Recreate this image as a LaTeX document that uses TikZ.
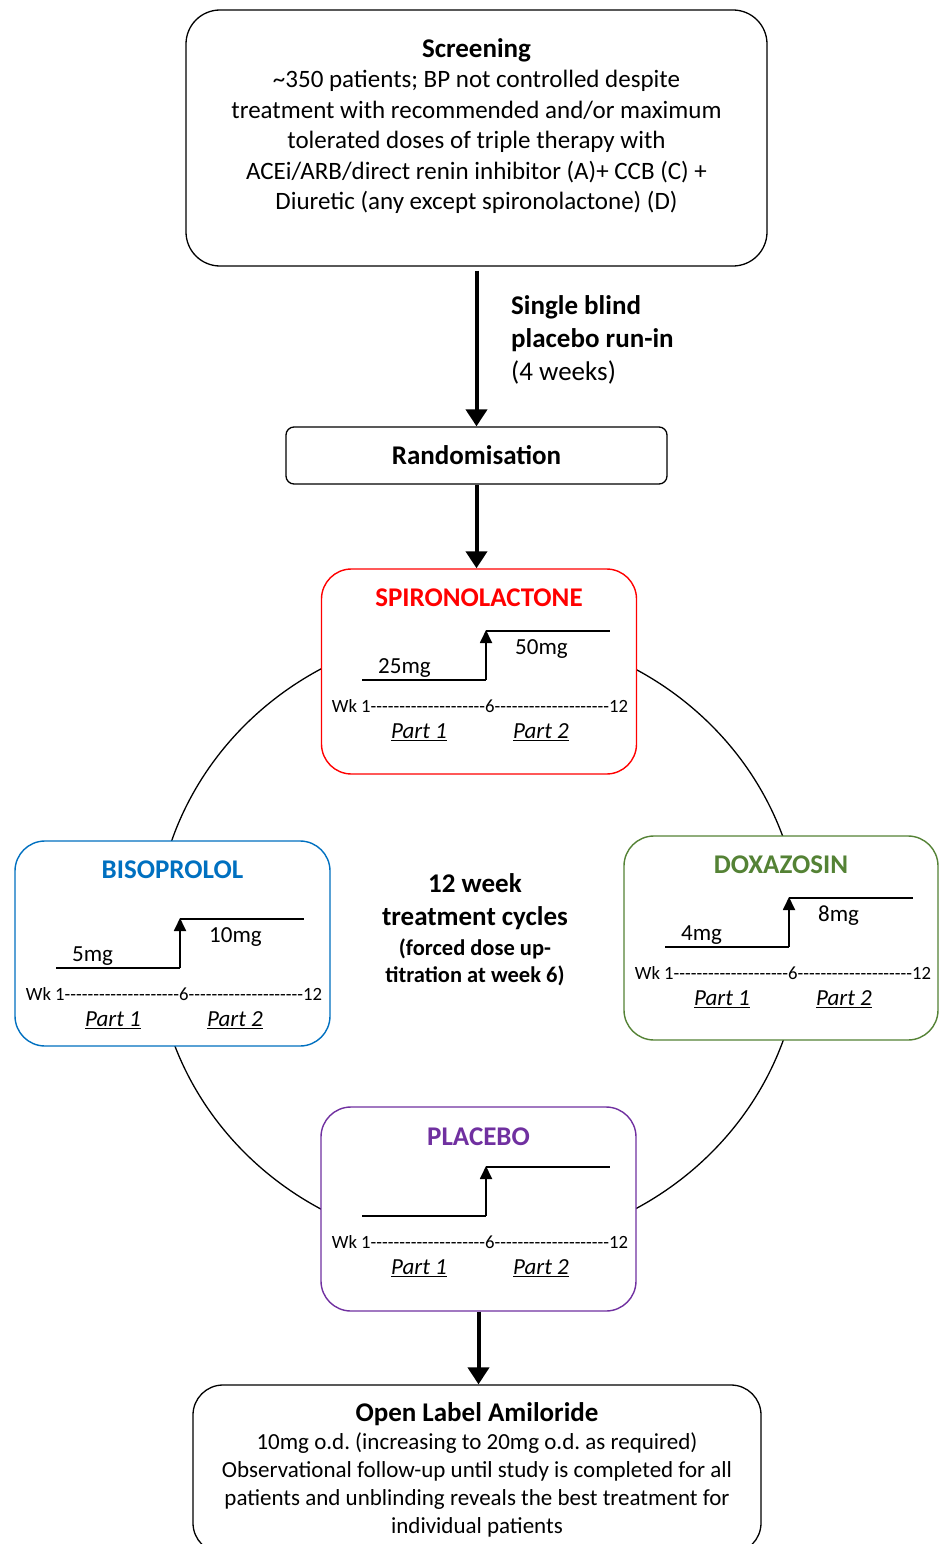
\documentclass[tikz,border=0pt]{standalone}
\usepackage{fontspec}
\setmainfont{Carlito}
\usetikzlibrary{arrows.meta,positioning,calc}
\definecolor{spirored}{HTML}{FF0000}
\definecolor{bisoblue}{HTML}{0070C0}
\definecolor{doxagreen}{HTML}{548235}
\definecolor{placpurple}{HTML}{7030A0}
\frenchspacing

\newcommand\fsz[2]{\fontsize{#1}{#2}\selectfont}
\newcommand\dashrun{\foreach \d in {1,...,20}{-\kern0pt}}

% dose step inside a drug box: origin, prefix, low dose, high dose
\newcommand\doseplot[4]{%
  \coordinate (#2-lo) at (#1);
  \coordinate (#2-up) at ($(#2-lo)+(124,0)$);
  \coordinate (#2-top) at ($(#2-up)+(0,-49)$);
  \draw[dose] (#2-lo) -- (#2-up);
  \draw[steparr] (#2-up) -- ($(#2-up)+(0,-50)$);
  \draw[dose] (#2-top) -- ($(#2-top)+(124,0)$);
  \node[lbl,anchor=west] (#2-low) at ($(#2-lo)+(16,-12)$) {#3};
  \node[lbl,anchor=west] (#2-high) at ($(#2-lo)+(153,-31)$) {#4};
  \node[wk] (#2-wk) at ($(#2-lo)+(118,26)$) {Wk 1\dashrun6\dashrun12};
  \node[lbl] (#2-p1) at ($(#2-lo)+(57,52.5)$) {\underline{\textit{Part 1}}};
  \node[lbl] (#2-p2) at ($(#2-lo)+(179,52.5)$) {\underline{\textit{Part 2}}};
}

\begin{document}
\begin{tikzpicture}[
  x=1pt,y=-1pt,
  stage/.style={draw=black,line width=1.3pt,fill=white,rounded corners=34pt,
                inner sep=0pt},
  drug/.style={draw=#1,line width=1.4pt,fill=white,rounded corners=30pt,
               minimum width=315pt,minimum height=205pt,inner sep=0pt},
  drugtitle/.style={font=\fsz{27}{33}\bfseries,inner sep=0pt},
  txt/.style={font=\fsz{25}{30.5},align=center,inner sep=0pt},
  lbl/.style={font=\fsz{23}{28},inner sep=0pt},
  wk/.style={font=\fsz{18.7}{22},inner sep=0pt},
  dose/.style={line width=1.8pt},
  steparr/.style={-{Triangle[width=12pt,length=13pt]},line width=1.8pt},
  arr/.style={-{Triangle[width=21pt,length=17pt]},line width=4pt},
  ring/.style={line width=1.3pt},
]
\useasboundingbox (0,0) rectangle (944,1544);

% Treatment cycle ring (behind the boxes)
\draw[ring] (478,939) ellipse [x radius=323pt, y radius=309pt];

% Screening
\node[stage,minimum width=581pt,minimum height=256pt] (screen) at (476.5,138) {};
\node[txt,below=29pt of screen.north] (screentxt)
  {{\fsz{27}{30.5}\bfseries Screening}\\
   \textasciitilde350 patients; BP not controlled despite\\
   treatment with recommended and/or maximum\\
   tolerated doses of triple therapy with\\
   ACEi/ARB/direct renin inhibitor (A)+ CCB (C) +\\
   Diuretic (any except spironolactone) (D)};

% Randomisation
\node[stage,rounded corners=8pt,minimum width=381pt,minimum height=57pt,
      font=\fsz{27}{33}\bfseries] (rand) at (476.5,455.5) {Randomisation};
\draw[arr] ([yshift=-4pt]screen.south) -- (rand.north);
\node[txt,font=\fsz{27}{33},align=left,anchor=west] (runin) at (511,340)
  {\textbf{Single blind}\\\textbf{placebo run-in}\\(4 weeks)};

% Drug boxes
\node[drug=spirored] (spiro) at (479,671.5) {};
\node[drugtitle,text=spirored,below=20pt of spiro.north] (spirotitle) {SPIRONOLACTONE};
\doseplot{362,680}{sp}{25mg}{50mg}

\node[drug=bisoblue] (biso) at (172.5,943.5) {};
\node[drugtitle,text=bisoblue,below=20pt of biso.north] (bisotitle) {BISOPROLOL};
\doseplot{56,968}{bi}{5mg}{10mg}

\node[drug=doxagreen,minimum width=314pt,minimum height=204pt] (doxa) at (781,938) {};
\node[drugtitle,text=doxagreen,below=20pt of doxa.north] (doxatitle) {DOXAZOSIN};
\doseplot{665,947}{dx}{4mg}{8mg}

\node[drug=placpurple,minimum height=204pt] (plac) at (478.5,1209) {};
\node[drugtitle,text=placpurple,below=21pt of plac.north] (plactitle) {PLACEBO};
\doseplot{362,1216}{pl}{}{}

\draw[arr] (rand.south) -- (rand.south |- spiro.north);

% Centre of the ring
\node[txt,font=\fsz{27}{33}\bfseries] (cycle) at (475,902) {12 week\\treatment cycles};
\node[txt,font=\fsz{22.5}{27}\bfseries] (forced) at (475,962)
  {(forced dose up-\\titration at week 6)};

% Open label
\node[stage,rounded corners=30pt,minimum width=568pt,minimum height=168pt] (amil) at (477,1469) {};
\draw[arr] (plac.south) -- (plac.south |- amil.north);
\node[txt,font=\fsz{23}{28},below=18pt of amil.north] (amiltxt)
  {{\fsz{27}{30}\bfseries Open Label Amiloride}\\
   10mg o.d. (increasing to 20mg o.d. as required)\\
   Observational follow-up until study is completed for all\\
   patients and unblinding reveals the best treatment for\\
   individual patients};

\end{tikzpicture}
\end{document}
